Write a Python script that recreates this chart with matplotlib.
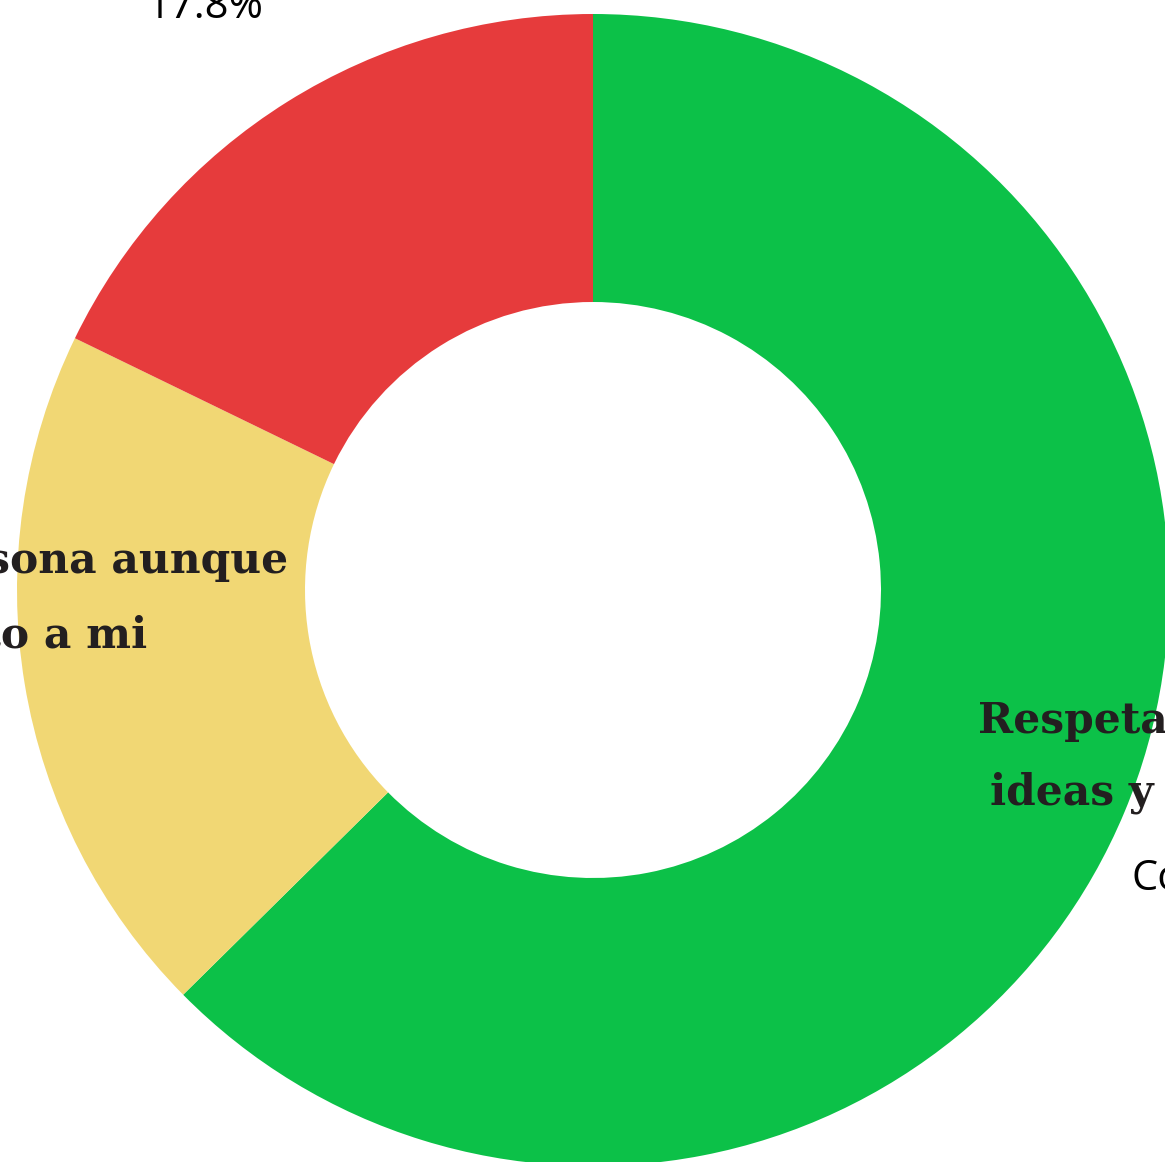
import matplotlib
matplotlib.use("Agg")
import matplotlib.pyplot as plt

# Data
categories = ["Respeta sus ideas y opiniones", "Respeta a la persona aunque piense distinto a mi", "Otro"]
values = [62.6, 19.6, 17.8]
colors = ["#0CC148", "#F1D774", "#E63B3C"]
pct_labels = ["Co", "19.6%", "17.8%"]

W, H = 1165, 1162
fig = plt.figure(figsize=(W / 100, H / 100), dpi=100)
ax = fig.add_axes([0, 0, 1, 1])

cx, cy = 593, H - 590
R = 576
ax.pie(values, colors=colors, startangle=90, counterclock=False,
       center=(cx, cy), radius=R,
       wedgeprops=dict(width=R * 0.5, linewidth=0), frame=True)
ax.set_xlim(0, W)
ax.set_ylim(0, H)
ax.set_aspect("equal")
ax.axis("off")

dark = "#231F20"
serif = dict(family="DejaVu Serif", weight="bold", size=30.5, color=dark)
sans = dict(family="Open Sans", size=30, color="black")

# green label (clipped at right)
ax.text(978, H - 733, "Respeta sus", ha="left", va="baseline", **serif)
ax.text(990, H - 805, "ideas y opiniones", ha="left", va="baseline", **serif)
ax.text(1132, H - 890, pct_labels[0], ha="left", va="baseline", **sans)

# yellow label (clipped at left)
ax.text(288, H - 573, "Respeta a la persona aunque", ha="right", va="baseline", **serif)
ax.text(147, H - 648, "piense distinto a mi", ha="right", va="baseline", **serif)
ax.text(2, H - 707, pct_labels[1], ha="right", va="baseline", **sans)

# red label (clipped at top)
ax.text(205, H - 18, pct_labels[2], ha="center", va="baseline", **sans)

fig.savefig("out.png", dpi=100)
